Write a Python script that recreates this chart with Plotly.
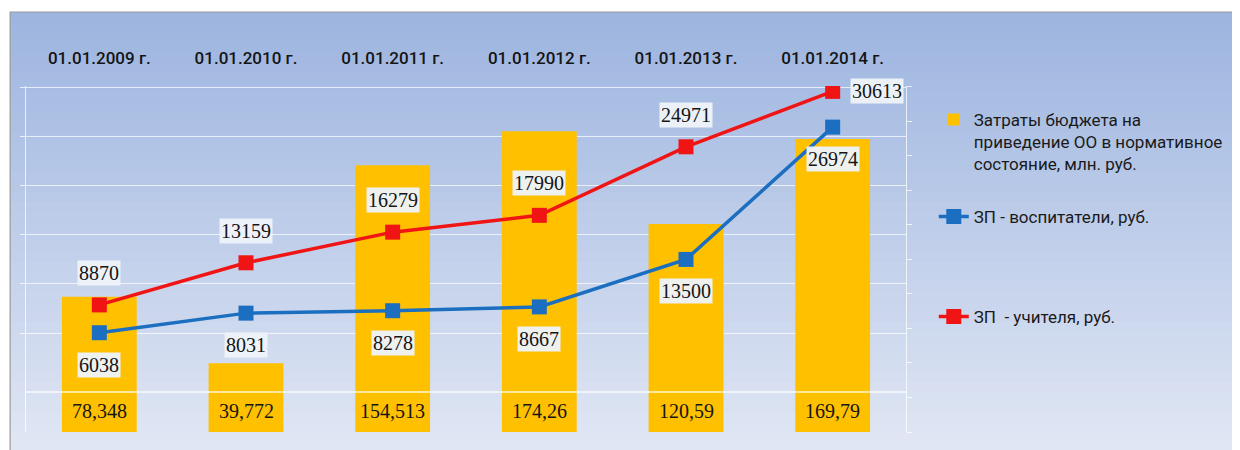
import plotly.graph_objects as go

# ---------------- data ----------------
categories = ["01.01.2009 г.", "01.01.2010 г.", "01.01.2011 г.",
              "01.01.2012 г.", "01.01.2013 г.", "01.01.2014 г."]
budget = [78.348, 39.772, 154.513, 174.26, 120.59, 169.79]
budget_labels = ["78,348", "39,772", "154,513", "174,26", "120,59", "169,79"]
educators = [6038, 8031, 8278, 8667, 13500, 26974]
teachers = [8870, 13159, 16279, 17990, 24971, 30613]

name_budget = "Затраты бюджета на<br>приведение ОО в нормативное<br>состояние, млн. руб."
name_edu = "ЗП - воспитатели, руб."
name_teach = "ЗП  - учителя, руб."

# ---------------- layout helpers ----------------
# the page body adds an 8px margin, so figure coordinates are page coordinates - 8
OFF = 8
W, H = 1240 - OFF, 450 - OFF
L, R, T, B = 26 - OFF, 913 - OFF, 86 - OFF, 432 - OFF


def px(x):  # page x -> paper
    return (x - OFF - L) / (R - L)


def py(y):  # page y -> paper
    return (B - (y - OFF)) / (B - T)


BAR_COLOR = "#FFC000"
BLUE = "#1c6fc0"
RED = "#f01414"
LABEL_FONT = dict(family="Liberation Serif", size=20, color="#151515")
SANS = "Roboto"

fig = go.Figure()
fig.add_trace(go.Bar(
    x=categories, y=budget, name=name_budget, marker=dict(color=BAR_COLOR, line=dict(width=0)),
    width=0.51, yaxis="y", legend="legend", hoverinfo="x+y"))
fig.add_trace(go.Scatter(
    x=categories, y=educators, name=name_edu, mode="lines+markers", yaxis="y2",
    line=dict(color=BLUE, width=3.5), marker=dict(symbol="square", size=15, color=BLUE),
    legend="legend2"))
fig.add_trace(go.Scatter(
    x=categories, y=teachers, name=name_teach, mode="lines+markers", yaxis="y2",
    line=dict(color=RED, width=3.5), marker=dict(symbol="square", size=15, color=RED),
    legend="legend3"))

# ---------------- background gradient ----------------
shapes = []
top_c = (156, 180, 223)
bot_c = (225, 231, 244)
y_start, y_end = 12, 452
n = 44
step = (y_end - y_start) / n
for i in range(n):
    t = (i + 0.5) / n
    c = tuple(round(a + (b - a) * t) for a, b in zip(top_c, bot_c))
    ya = y_start + i * step
    yb = ya + step + 0.6
    shapes.append(dict(type="rect", xref="paper", yref="paper", layer="below",
                       x0=px(10), x1=px(1250), y0=py(yb), y1=py(ya),
                       line=dict(width=0), fillcolor="rgb(%d,%d,%d)" % c))
# outer border
shapes.append(dict(type="rect", xref="paper", yref="paper", layer="below",
                   x0=px(10), x1=px(1270), y0=py(470), y1=py(12),
                   line=dict(width=1.2, color="#9a9a9a"), fillcolor="rgba(0,0,0,0)"))
# white base line of the secondary scale (zero level)
shapes.append(dict(type="line", xref="paper", yref="y2", layer="above",
                   x0=0, x1=1, y0=0, y1=0,
                   line=dict(width=1.3, color="rgba(255,255,255,0.85)")))

# ---------------- annotations (data labels) ----------------
annotations = []
for c, lab in zip(categories, budget_labels):
    annotations.append(dict(x=c, y=0, xref="x", yref="y", text=lab, showarrow=False,
                            yanchor="middle", yshift=21, font=LABEL_FONT))
box_bg = "rgba(238,242,249,0.96)"
for c, v in zip(categories, educators):
    annotations.append(dict(x=c, y=v, xref="x", yref="y2", text=str(v), showarrow=False,
                            yanchor="middle", yshift=-32, font=LABEL_FONT,
                            bgcolor=box_bg, borderpad=1))
for i, (c, v) in enumerate(zip(categories, teachers)):
    last = i == len(teachers) - 1
    annotations.append(dict(x=c, y=v, xref="x", yref="y2", text=str(v), showarrow=False,
                            yanchor="middle", xanchor="center",
                            yshift=0 if last else 32, xshift=44 if last else 0,
                            font=LABEL_FONT, bgcolor=box_bg, borderpad=1))

axis_white = "rgba(255,255,255,0.75)"
legend_font = dict(family=SANS, size=17, color="#1a1a1a")
grid_vals = list(range(6000, 31001, 5000))
fig.update_layout(
    width=W, height=H,
    margin=dict(l=L, r=W - R, t=T, b=H - B, pad=0),
    paper_bgcolor="white", plot_bgcolor="rgba(0,0,0,0)",
    shapes=shapes, annotations=annotations,
    showlegend=True,
    bargap=0.49,
    font=dict(family=SANS, size=17, color="#1a1a1a"),
    xaxis=dict(side="top", showgrid=False, showline=False, zeroline=False,
               ticks="", ticklabelstandoff=18,
               tickfont=dict(family=SANS, size=17, color="#141414", weight=500),
               range=[-0.5, 5.5]),
    yaxis=dict(side="right", range=[0, 200.5], tick0=0, dtick=20, showgrid=False,
               zeroline=False, showticklabels=False, ticks="outside", ticklen=5,
               tickcolor=axis_white, showline=True, linecolor=axis_white),
    yaxis2=dict(overlaying="y", side="left", range=[-4073, 31161],
                tickmode="array", tickvals=grid_vals,
                showgrid=True, gridcolor="rgba(255,255,255,0.7)", gridwidth=1,
                zeroline=False, showticklabels=False, ticks="outside", ticklen=5,
                tickcolor=axis_white, showline=True, linecolor=axis_white),
    legend=dict(x=px(941), xanchor="left", y=py(102), yanchor="top", valign="top",
                bgcolor="rgba(0,0,0,0)", font=legend_font),
    legend2=dict(x=px(941), xanchor="left", y=py(217), yanchor="middle",
                 bgcolor="rgba(0,0,0,0)", font=legend_font),
    legend3=dict(x=px(941), xanchor="left", y=py(317), yanchor="middle",
                 bgcolor="rgba(0,0,0,0)", font=legend_font),
)

fig.write_html("out.html")
